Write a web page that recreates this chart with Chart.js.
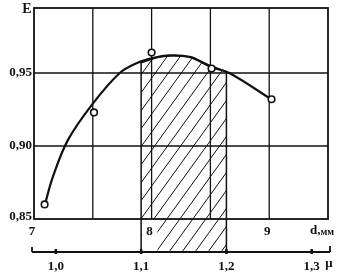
<!DOCTYPE html>
<html><head><meta charset="utf-8">
<script src="https://cdn.jsdelivr.net/npm/chart.js@4"></script>
<style>html,body{margin:0;padding:0;background:#fff}#wrap{width:339px;height:278px;position:relative}</style>
</head><body><div id="wrap"><canvas id="c"></canvas></div>
<script>
// ---- data ----
const pointD = [7.09, 7.51, 8.00, 8.51, 9.02];
const pointE = [0.860, 0.923, 0.964, 0.953, 0.932];
const curveD = [7.093, 7.161, 7.288, 7.50, 7.729, 7.881, 8.00, 8.153, 8.322, 8.508, 8.661, 9.017];
const curveE = [0.860, 0.879, 0.904, 0.929, 0.950, 0.957, 0.960, 0.962, 0.961, 0.954, 0.950, 0.932];
const Y_MIN = 0.8274, Y_MAX = 0.9945;
const D_MIN = 7, D_MAX = 9.5;
const MU_MIN = 0.9744, MU_MAX = 1.3191;
const hatchMu = [1.10, 1.10, 1.12, 1.14, 1.16, 1.18, 1.20, 1.20];
const hatchE  = [Y_MIN, 0.957, 0.961, 0.962, 0.9607, 0.9553, 0.9508, Y_MIN];
const dGrid = [7.5, 8, 8.5, 9];
const eGrid = [0.90, 0.95];
const dTicks = [7, 8, 9];
const dTickLabels = ['7', '8', '9'];
const eTicks = [0.85, 0.90, 0.95];
const eTickLabels = ['0,85', '0,90', '0,95'];
const muTicks = [1.0, 1.1, 1.2, 1.3];
const muTickLabels = ['1,0', '1,1', '1,2', '1,3'];
const E_BOTTOM = 0.85;

const canvas = document.getElementById('c');
function makeHatch(){
  const w = 13, h = 18;
  const c = document.createElement('canvas'); c.width = w; c.height = h;
  const g = c.getContext('2d');
  g.strokeStyle = '#111'; g.lineWidth = 1.0;
  g.beginPath();
  g.moveTo(0, h); g.lineTo(w, 0);
  g.moveTo(-w, h); g.lineTo(0, 0);
  g.moveTo(w, h); g.lineTo(2*w, 0);
  g.stroke();
  return canvas.getContext('2d').createPattern(c, 'repeat');
}
const hatchPattern = makeHatch();
const FONT = '"Liberation Serif", "DejaVu Serif", serif';

function seg(ctx, x1, y1, x2, y2){ ctx.beginPath(); ctx.moveTo(x1, y1); ctx.lineTo(x2, y2); ctx.stroke(); }

const framePlugin = {
  id: 'frame',
  beforeDatasetsDraw(chart){
    const ctx = chart.ctx, X = chart.scales.x, Y = chart.scales.y;
    ctx.save();
    ctx.strokeStyle = '#111'; ctx.lineWidth = 1.3;
    const yb = Y.getPixelForValue(E_BOTTOM), yt = Y.getPixelForValue(Y_MAX);
    dGrid.forEach(d => { const px = X.getPixelForValue(d); seg(ctx, px, yb, px, yt); });
    eGrid.forEach(e => { const py = Y.getPixelForValue(e); seg(ctx, X.getPixelForValue(D_MIN), py, X.getPixelForValue(D_MAX), py); });
    ctx.restore();
  },
  afterDatasetsDraw(chart){
    const ctx = chart.ctx, X = chart.scales.x, Y = chart.scales.y, M = chart.scales.mu;
    const xl = X.getPixelForValue(D_MIN), xr = X.getPixelForValue(D_MAX);
    const yb = Y.getPixelForValue(E_BOTTOM), yt = Y.getPixelForValue(Y_MAX);
    const ymu = Y.getPixelForValue(Y_MIN);
    ctx.save();
    // blank patch behind the "8" label
    ctx.fillStyle = '#fff';
    const x8a = M.getPixelForValue(1.1) + 1, x8b = X.getPixelForValue(8.05);
    ctx.fillRect(x8a, yb + 1, x8b - x8a, ymu - yb - 2);
    // frame
    ctx.strokeStyle = '#111'; ctx.lineWidth = 1.8;
    ctx.strokeRect(xl, yt, xr - xl, yb - yt);
    // mu axis
    ctx.lineWidth = 1.8;
    seg(ctx, xl - 2, ymu, xr + 2, ymu);
    seg(ctx, xl - 2, ymu, xl - 2, ymu - 5);
    seg(ctx, xr + 2, ymu, xr + 2, ymu - 6);
    ctx.lineWidth = 2.5;
    muTicks.forEach(m => { const px = M.getPixelForValue(m); seg(ctx, px, ymu - 3, px, ymu + 2); });
    // labels
    ctx.fillStyle = '#111';
    ctx.font = 'bold 13px ' + FONT;
    ctx.textBaseline = 'middle';
    ctx.textAlign = 'right';
    eTicks.forEach((e, i) => ctx.fillText(eTickLabels[i], xl - 2, Y.getPixelForValue(e) - (i === 0 ? 2 : 0)));
    ctx.textAlign = 'center';
    dTicks.forEach((d, i) => ctx.fillText(dTickLabels[i], X.getPixelForValue(d) - 2, yb + 13));
    muTicks.forEach((m, i) => ctx.fillText(muTickLabels[i], M.getPixelForValue(m), ymu + 15));
    // axis titles
    ctx.font = 'bold 14px ' + FONT;
    ctx.fillText('E', xl - 7, yt + 1);
    ctx.font = 'bold 13px ' + FONT;
    ctx.textAlign = 'left';
    const t1 = 'd,';
    const w1 = ctx.measureText(t1).width;
    ctx.font = 'bold 10px ' + FONT;
    const w2 = ctx.measureText('мм').width;
    const sx = xr - 6 - (w1 + w2) / 2;
    ctx.font = 'bold 13px ' + FONT;
    ctx.fillText(t1, sx, yb + 12);
    ctx.font = 'bold 10px ' + FONT;
    ctx.fillText('мм', sx + w1, yb + 13);
    ctx.font = 'bold 13px ' + FONT;
    ctx.textAlign = 'center';
    ctx.fillText('μ', xr + 1, ymu + 12);
    ctx.restore();
  }
};

new Chart(canvas, {
  data: {
    datasets: [
      {
        type: 'scatter',
        data: pointD.map((d, i) => ({x: d, y: pointE[i]})),
        pointRadius: 3.3, pointBorderWidth: 1.6,
        pointBackgroundColor: '#fff', pointBorderColor: '#111',
        xAxisID: 'x', yAxisID: 'y', order: 0
      },
      {
        type: 'line',
        data: curveD.map((d, i) => ({x: d, y: curveE[i]})),
        borderColor: '#111', borderWidth: 2.2, pointRadius: 0,
        tension: 0.35, fill: false,
        xAxisID: 'x', yAxisID: 'y', order: 1
      },
      {
        type: 'line',
        data: hatchMu.map((m, i) => ({x: m, y: hatchE[i]})),
        borderColor: '#111', borderWidth: 1.5, pointRadius: 0, tension: 0,
        fill: 'start', backgroundColor: hatchPattern,
        xAxisID: 'mu', yAxisID: 'y', order: 2
      }
    ]
  },
  options: {
    responsive: true, maintainAspectRatio: false, animation: false, events: [],
    layout: { padding: { left: 34, right: 11, top: 8, bottom: 26 } },
    plugins: { legend: { display: false }, tooltip: { enabled: false } },
    scales: {
      x: { type: 'linear', min: D_MIN, max: D_MAX, display: false },
      mu: { type: 'linear', axis: 'x', min: MU_MIN, max: MU_MAX, display: false },
      y: { type: 'linear', min: Y_MIN, max: Y_MAX, display: false }
    }
  },
  plugins: [framePlugin]
});
</script>
</body></html>
